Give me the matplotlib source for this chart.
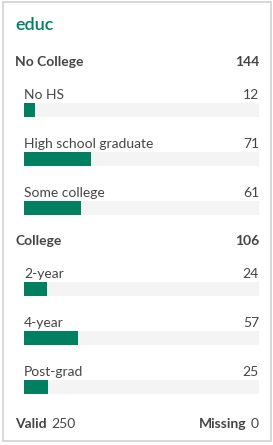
import matplotlib
matplotlib.use("Agg")
import matplotlib.pyplot as plt
from matplotlib.patches import Rectangle

title = "educ"
groups = ["No College", "College"]
group_totals = [144, 106]
sub_labels = [["No HS", "High school graduate", "Some college"],
              ["2-year", "4-year", "Post-grad"]]
sub_values = [[12, 71, 61], [24, 57, 25]]
valid = 250
missing = 0

W, H = 273, 445
DPI = 100
TEAL = "#008060"
TRACK = "#f4f4f4"
TEXT = "#454545"
FONT = "Lato"
FS = 10

fig = plt.figure(figsize=(W / DPI, H / DPI), dpi=DPI)
fig.patch.set_facecolor("white")
renderer = fig.canvas.get_renderer()


def fx(x):
    return x / W


def fy(y):
    return 1 - y / H


# card border
fig.patches.append(Rectangle((fx(2.5), fy(441)), fx(268), 439 / H,
                             transform=fig.transFigure, fill=False,
                             edgecolor="#d2d2d2", linewidth=1.2))

fig.text(fx(15), fy(29.5), title, color=TEAL, fontsize=13, family=FONT,
         fontweight="semibold", va="baseline", ha="left")

left, right = 24, 259
bar_h = 14
header_base = [66, 245]
for gi, g in enumerate(groups):
    y = header_base[gi]
    fig.text(fx(15), fy(y), g, color=TEXT, fontsize=FS, family=FONT,
             fontweight="bold", va="baseline", ha="left")
    fig.text(fx(right), fy(y), str(group_totals[gi]), color=TEXT, fontsize=FS,
             family=FONT, fontweight="bold", va="baseline", ha="right")
    bar_top = y + 37
    for lab, v in zip(sub_labels[gi], sub_values[gi]):
        base = bar_top - 4.3
        fig.text(fx(left), fy(base), lab, color=TEXT, fontsize=FS, family=FONT,
                 va="baseline", ha="left")
        fig.text(fx(right), fy(base), str(v), color=TEXT, fontsize=FS,
                 family=FONT, va="baseline", ha="right")
        ax = fig.add_axes([fx(left), fy(bar_top + bar_h), (right - left) / W, bar_h / H])
        ax.barh(0, valid, height=1, color=TRACK, left=0)
        ax.barh(0, v, height=1, color=TEAL, left=0)
        ax.set_xlim(0, valid)
        ax.set_ylim(-0.5, 0.5)
        ax.axis("off")
        bar_top += 49

fb = 427.5
t1 = fig.text(fx(15), fy(fb), "Valid", color=TEXT, fontsize=FS, family=FONT,
              fontweight="bold", va="baseline", ha="left")
e1 = t1.get_window_extent(renderer)
fig.text(e1.x1 / W + fx(4.5), fy(fb), str(valid), color=TEXT, fontsize=FS,
         family=FONT, va="baseline", ha="left")
t2 = fig.text(fx(right), fy(fb), str(missing), color=TEXT, fontsize=FS,
              family=FONT, va="baseline", ha="right")
e2 = t2.get_window_extent(renderer)
fig.text(e2.x0 / W - fx(4.5), fy(fb), "Missing", color=TEXT, fontsize=FS,
         family=FONT, fontweight="bold", va="baseline", ha="right")

fig.savefig("out.png", dpi=DPI)
